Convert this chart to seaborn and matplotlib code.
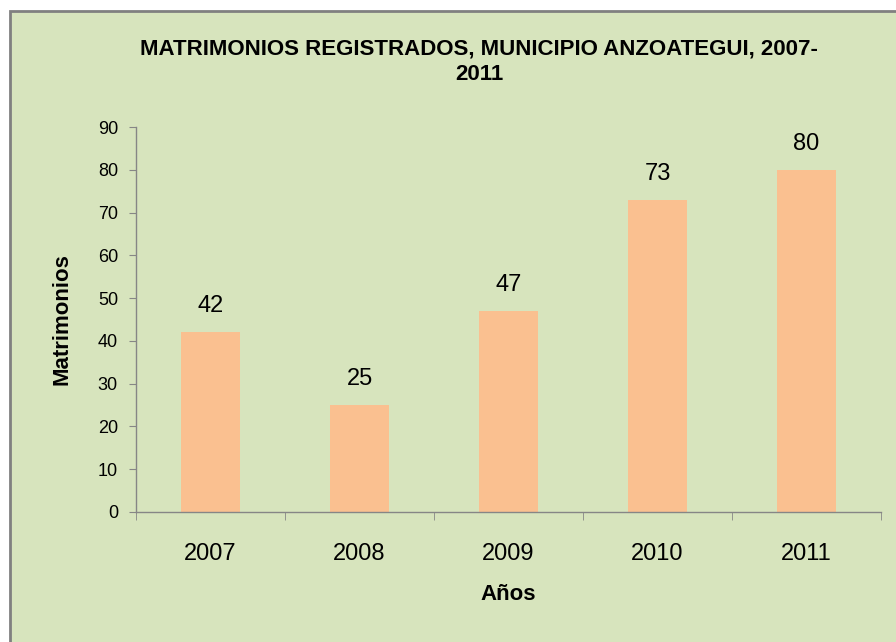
import matplotlib
matplotlib.use("Agg")
import matplotlib.pyplot as plt
import seaborn as sns
import pandas as pd
from matplotlib import font_manager
from matplotlib.patches import Rectangle

years = ["2007", "2008", "2009", "2010", "2011"]
matrimonios = [42, 25, 47, 73, 80]
title = "MATRIMONIOS REGISTRADOS, MUNICIPIO ANZOATEGUI, 2007-\n2011"

names = {f.name for f in font_manager.fontManager.ttflist}
narrow = "Liberation Sans Narrow" if "Liberation Sans Narrow" in names else "Liberation Sans"

sns.set_style("ticks")
plt.rcParams["font.family"] = [narrow, "DejaVu Sans"]
plt.rcParams["text.color"] = "black"
plt.rcParams["xtick.labelcolor"] = "black"
plt.rcParams["ytick.labelcolor"] = "black"
plt.rcParams["axes.labelcolor"] = "black"

bg = "#d7e4bd"
df = pd.DataFrame({"year": years, "count": matrimonios})

fig = plt.figure(figsize=(8.96, 6.42), dpi=100)
fig.patch.set_facecolor("white")
fig.patches.append(Rectangle((10 / 896, -0.01), 1.0, 1 - 11 / 642 + 0.01,
                             transform=fig.transFigure, facecolor=bg,
                             edgecolor="#808080", linewidth=2, zorder=0))

ax = fig.add_axes([136 / 896, 1 - 512 / 642, 745 / 896, 385 / 642])
ax.set_zorder(2)
ax.set_facecolor("none")
sns.barplot(data=df, x="year", y="count", color="#fac090", width=0.4,
            saturation=1, edgecolor="none", linewidth=0, ax=ax)

ax.set_ylim(0, 90)
ax.set_yticks(range(0, 91, 10))
ax.set_xlim(-0.5, len(years) - 0.5)
for spine in ["top", "right"]:
    ax.spines[spine].set_visible(False)
for spine in ["left", "bottom"]:
    ax.spines[spine].set_color("#868686")
    ax.spines[spine].set_linewidth(1)

ax.tick_params(axis="y", labelsize=13, color="#868686", length=5, pad=8)
ax.tick_params(axis="x", which="major", length=0, labelsize=17, pad=22)
ax.set_xticks([i + 0.5 for i in range(-1, len(years))], minor=True)
ax.tick_params(axis="x", which="minor", length=6, color="#868686")

for i, v in enumerate(matrimonios):
    ax.text(i, v + 3.5, str(v), ha="center", va="bottom", fontsize=17)

ax.set_xlabel("Años", fontsize=16, fontweight="bold", labelpad=14)
ax.set_ylabel("Matrimonios", fontsize=16, fontweight="bold", labelpad=18)
t = fig.text(0.535, 1 - 62 / 642, title, ha="center", va="center",
             fontsize=16, fontweight="bold", linespacing=1.3)
t.set_zorder(3)

fig.savefig("out.png", dpi=100)
